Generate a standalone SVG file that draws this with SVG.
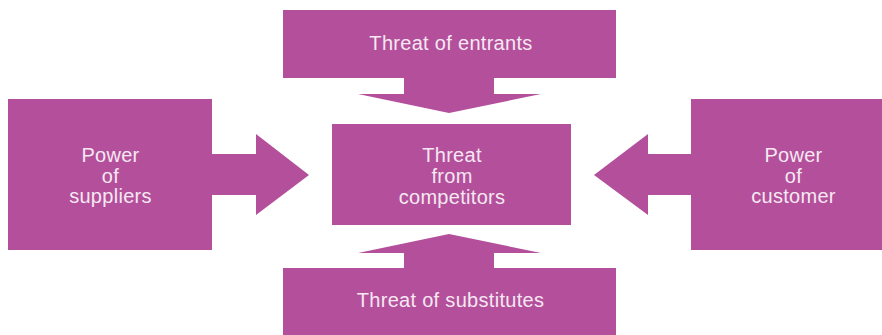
<svg xmlns="http://www.w3.org/2000/svg" width="882" height="335" viewBox="0 0 882 335">
<style>
.s{fill:#b44f9b}
.t{fill:#f6e8f2;font-family:"Liberation Sans",Arial,sans-serif;font-size:20px;letter-spacing:0.3px;text-anchor:middle}
</style>
<rect width="882" height="335" fill="#ffffff"/>
<g id="connectors">
<polygon class="s" points="404,78 494,78 494,94 541,94 449,113 358,94 404,94"/>
<polygon class="s" points="404,268 494,268 494,253 541,253 449,234 358,253 404,253"/>
<polygon class="s" points="212,154 256,154 256,134 309,175 256,215 256,195 212,195"/>
<polygon class="s" points="691,154 648,154 648,134 594,175 648,215 648,195 691,195"/>
</g>
<g id="entrants">
<rect class="s" x="283" y="10" width="333" height="68"/>
<text class="t" x="451" y="50">Threat of entrants</text>
</g>
<g id="competitors">
<rect class="s" x="332" y="124" width="239" height="101"/>
<text class="t" x="452" y="162">Threat</text>
<text class="t" x="452" y="183">from</text>
<text class="t" x="452" y="204">competitors</text>
</g>
<g id="suppliers">
<rect class="s" x="8" y="99" width="204" height="151"/>
<text class="t" x="110.5" y="162">Power</text>
<text class="t" x="110.5" y="183">of</text>
<text class="t" x="110.5" y="203">suppliers</text>
</g>
<g id="customer">
<rect class="s" x="691" y="99" width="191" height="151"/>
<text class="t" x="793.5" y="162">Power</text>
<text class="t" x="793.5" y="183">of</text>
<text class="t" x="793.5" y="203">customer</text>
</g>
<g id="substitutes">
<rect class="s" x="283" y="268" width="333" height="67"/>
<text class="t" x="450.5" y="307">Threat of substitutes</text>
</g>
</svg>
